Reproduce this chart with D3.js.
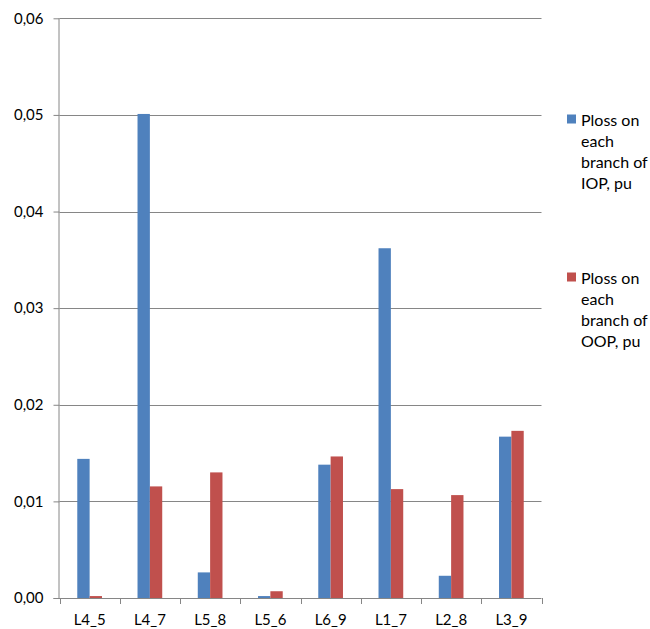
<!DOCTYPE html>
<html><head><meta charset="utf-8">
<script src="https://cdn.jsdelivr.net/npm/d3@7"></script>
<style>body{margin:0;background:#fff}text{font-family:Lato,"Open Sans",sans-serif;fill:#000}</style>
</head><body><svg id="c" width="650" height="629"></svg>
<script>
const categories = ["L4_5","L4_7","L5_8","L5_6","L6_9","L1_7","L2_8","L3_9"];
const iopValues = [0.0144,0.0501,0.00265,0.0002,0.0138,0.0362,0.0023,0.0167];
const oopValues = [0.0002,0.01155,0.0130,0.0007,0.01465,0.01127,0.01065,0.0173];
const seriesNames = ["Ploss on each branch of IOP, pu","Ploss on each branch of OOP, pu"];
const legendLines = [["Ploss on","each","branch of","IOP, pu"],["Ploss on","each","branch of","OOP, pu"]];
const yTicks = [0,0.01,0.02,0.03,0.04,0.05,0.06];
const colors = ["#4F81BD","#C0504D"];

const svg = d3.select("#c");
const L=59.5, R=541.5, T=18.3, B=598;
const x = d3.scaleBand().domain(categories).range([L,R]).padding(0);
const y = d3.scaleLinear().domain([0,0.06]).range([B,T]);
const fmt = v => d3.format(".2f")(v).replace(".",",");

// gridlines
svg.append("g").selectAll("line").data(yTicks.filter(d=>d>0)).join("line")
  .attr("x1",L).attr("x2",R).attr("y1",d=>Math.round(y(d))+0.5).attr("y2",d=>Math.round(y(d))+0.5)
  .attr("stroke","#868686").attr("stroke-width",1);

// bars
const bw = x.bandwidth()*0.205;
[iopValues,oopValues].forEach((vals,si)=>{
  svg.append("g").selectAll("rect").data(categories).join("rect")
    .attr("x",(d)=>x(d)+x.bandwidth()/2 - bw + si*bw)
    .attr("width",bw)
    .attr("y",(d,i)=>y(vals[i]))
    .attr("height",(d,i)=>B-y(vals[i]))
    .attr("fill",colors[si]);
});

// y axis
const ya = d3.axisLeft(y).tickValues(yTicks).tickFormat(fmt).tickSize(6).tickPadding(10);
const gy = svg.append("g").attr("transform",`translate(${L},0)`).call(ya);
gy.select(".domain").attr("stroke","#868686").attr("d",`M-0.5,${T}V${B}`);
gy.selectAll(".tick line").attr("stroke","#868686");
gy.selectAll("text").style("font-size","15px").attr("font-family",null).attr("fill","#000");

// x axis
const xTickPos = categories.map(c=>x(c)).concat([R]);
const gx = svg.append("g").attr("transform",`translate(0,${B})`);
gx.append("line").attr("x1",L-6).attr("x2",R).attr("y1",0.5).attr("y2",0.5).attr("stroke","#868686");
gx.selectAll("line.t").data(xTickPos).join("line").attr("class","t")
  .attr("x1",d=>Math.round(d)+0.5).attr("x2",d=>Math.round(d)+0.5).attr("y1",0).attr("y2",6).attr("stroke","#868686");
gx.selectAll("text").data(categories).join("text")
  .attr("x",d=>x(d)+x.bandwidth()/2).attr("y",27).attr("text-anchor","middle")
  .style("font-size","15px").text(d=>d);

// legend
const lg = svg.append("g");
const legendY = [120,278];
legendLines.forEach((lines,i)=>{
  lg.append("rect").attr("x",567).attr("y",legendY[i]-5.5).attr("width",9).attr("height",9).attr("fill",colors[i]);
  const t = lg.append("text").attr("x",581).attr("y",legendY[i]+5.5).style("font-size","16px");
  t.append("title").text(seriesNames[i]);
  lines.forEach((ln,j)=>t.append("tspan").attr("x",581).attr("dy",j===0?0:21).text(ln));
});
</script></body></html>
